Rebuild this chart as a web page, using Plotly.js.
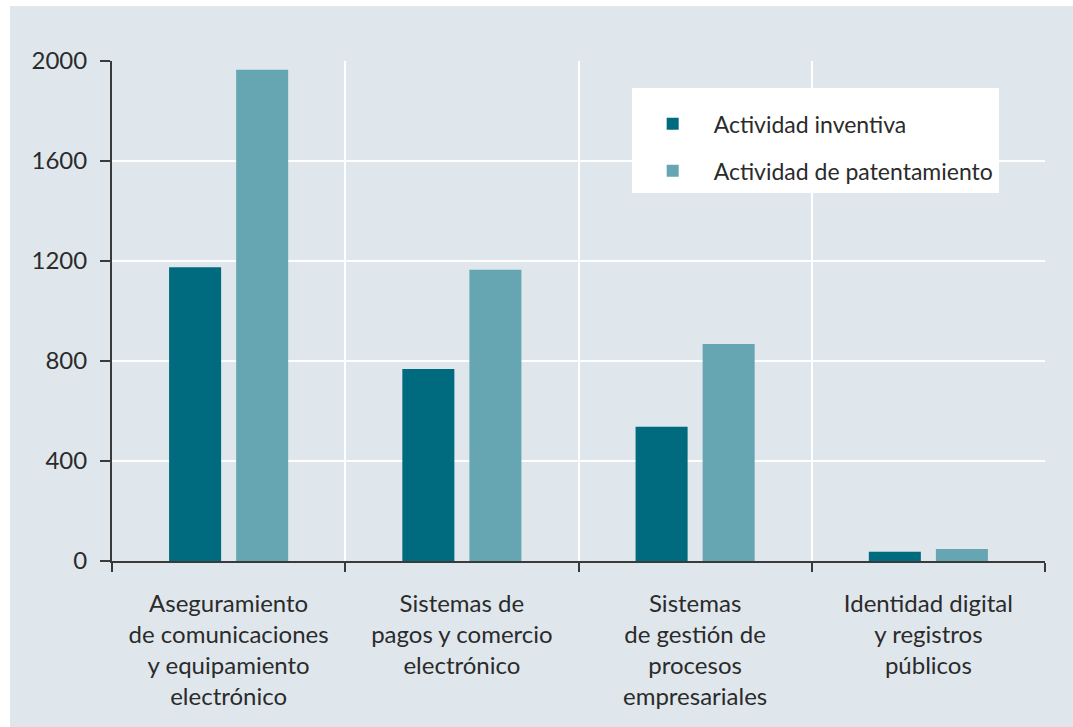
<!DOCTYPE html>
<html><head><meta charset="utf-8">
<script src="https://cdn.plot.ly/plotly-3.0.1.min.js"></script>
<style>html,body{margin:0;padding:0;background:#ffffff;}#chart{position:absolute;left:10px;top:6px;width:1063px;height:721px;}</style>
</head><body><div id="chart"></div>
<script>
const categories = [
  "Aseguramiento<br>de comunicaciones<br>y equipamiento<br>electrónico",
  "Sistemas de<br>pagos y comercio<br>electrónico",
  "Sistemas<br>de gestión de<br>procesos<br>empresariales",
  "Identidad digital<br>y registros<br>públicos"
];
const seriesNames = ["Actividad inventiva", "Actividad de patentamiento"];
const inventiva = [1175, 768, 537, 37];
const patentamiento = [1965, 1165, 868, 48];
const yTicks = [0, 400, 800, 1200, 1600, 2000];

const font = "Lato, 'Open Sans', sans-serif";
const traces = [
  {type: "bar", name: seriesNames[0], legendgroup: "a", x: categories, y: inventiva, marker: {color: "#006a7e"}, hoverinfo: "y"},
  {type: "bar", name: seriesNames[1], legendgroup: "b", x: categories, y: patentamiento, marker: {color: "#66a6b2"}, hoverinfo: "y"}
];
const layout = {
  width: 1063, height: 721,
  paper_bgcolor: "#dfe7ed", plot_bgcolor: "#dfe7ed",
  margin: {l: 102, r: 28, t: 55, b: 166},
  barmode: "group", bargap: 0.425, bargroupgap: 0.224,
  font: {family: font, color: "#2b2b2b", size: 24},
  showlegend: true,
  legend: {x: 0.557, y: 0.946, xanchor: "left", yanchor: "top", bgcolor: "#ffffff",
           borderwidth: 0, itemwidth: 72, traceorder: "grouped", tracegroupgap: 14,
           title: {text: " ", font: {size: 11}},
           font: {size: 23, family: font, color: "#2b2b2b"}},
  xaxis: {type: "category", tickson: "boundaries", showgrid: true, gridcolor: "#ffffff", gridwidth: 2,
          showline: true, linecolor: "#3a3a3a", linewidth: 2, ticks: "outside", ticklen: 9, tickwidth: 2,
          tickcolor: "#3a3a3a", ticklabelstandoff: 20,
          tickfont: {size: 24, family: font, color: "#2b2b2b"}, zeroline: false, fixedrange: true},
  yaxis: {range: [0, 2000], tickvals: yTicks, ticktext: yTicks.map(String), showgrid: true, gridcolor: "#ffffff", gridwidth: 2,
          showline: true, linecolor: "#3a3a3a", linewidth: 2, ticks: "outside", ticklen: 10, tickwidth: 2,
          tickcolor: "#3a3a3a", ticklabelstandoff: 8, zeroline: false,
          tickfont: {size: 24, family: font, color: "#2b2b2b"}, fixedrange: true}
};
Plotly.newPlot("chart", traces, layout, {displayModeBar: false, staticPlot: true});
</script></body></html>
